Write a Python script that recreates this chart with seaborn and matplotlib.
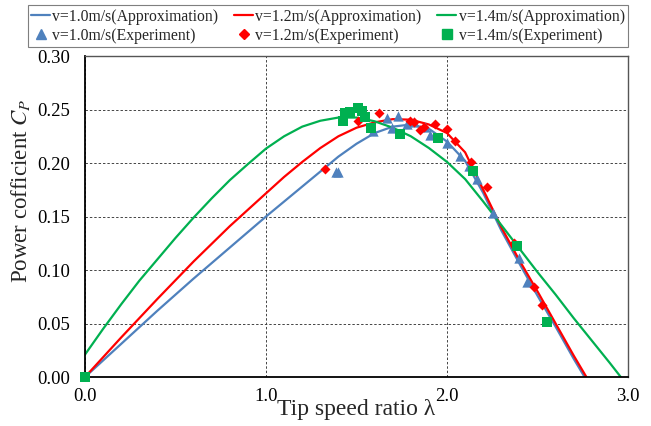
"""
Courbe Cp - lambda : approximations et points experimentaux
pour trois vitesses de vent.
"""

import numpy as np
import pandas as pd
import matplotlib.pyplot as plt
import seaborn as sns
from matplotlib.lines import Line2D

# ---------------------------------------------------------------------------
# Donnees
# ---------------------------------------------------------------------------

# Courbes d'approximation
lam_fit_10 = [0.0, 0.2, 0.4, 0.6, 0.8, 1.0, 1.1, 1.2, 1.3, 1.4, 1.5, 1.6, 1.7,
              1.8, 1.9, 2.0, 2.1, 2.2, 2.3, 2.4, 2.5, 2.6, 2.7, 2.76]
cp_fit_10 = [0.000, 0.031, 0.062, 0.092, 0.121, 0.150, 0.164, 0.178, 0.192,
             0.206, 0.218, 0.228, 0.234, 0.236, 0.232, 0.220, 0.202, 0.172,
             0.137, 0.106, 0.076, 0.047, 0.017, 0.000]

lam_fit_12 = [0.0, 0.2, 0.4, 0.6, 0.8, 1.0, 1.1, 1.2, 1.3, 1.4, 1.5, 1.6, 1.7,
              1.8, 1.9, 2.0, 2.1, 2.2, 2.3, 2.4, 2.5, 2.6, 2.7, 2.77]
cp_fit_12 = [0.000, 0.037, 0.073, 0.108, 0.141, 0.1717, 0.187, 0.201, 0.214,
             0.225, 0.233, 0.238, 0.241, 0.2405, 0.236, 0.228, 0.210, 0.175,
             0.140, 0.109, 0.080, 0.050, 0.020, 0.000]

lam_fit_14 = [0.0, 0.1, 0.2, 0.3, 0.4, 0.5, 0.6, 0.7, 0.8, 0.9, 1.0, 1.1, 1.2,
              1.3, 1.4, 1.5, 1.6, 1.7, 1.8, 1.9, 2.0, 2.1, 2.2, 2.3, 2.4, 2.5,
              2.6, 2.7, 2.8, 2.9, 2.96]
cp_fit_14 = [0.021, 0.045, 0.068, 0.090, 0.110, 0.130, 0.149, 0.167, 0.184,
             0.199, 0.2135, 0.225, 0.234, 0.2395, 0.2425, 0.2425, 0.239, 0.233,
             0.225, 0.214, 0.201, 0.185, 0.164, 0.142, 0.120, 0.098, 0.077,
             0.055, 0.034, 0.013, 0.000]

# Points experimentaux
lam_exp_10 = [1.387, 1.40, 1.59, 1.67, 1.695, 1.731, 1.779, 1.82, 1.879, 1.904,
              2.0, 2.07, 2.12, 2.165, 2.255, 2.395, 2.44]
cp_exp_10 = [0.192, 0.192, 0.230, 0.2418, 0.2325, 0.2443, 0.236, 0.238, 0.234,
             0.226, 0.219, 0.207, 0.197, 0.185, 0.153, 0.111, 0.0887]

lam_exp_12 = [1.326, 1.507, 1.624, 1.795, 1.82, 1.852, 1.873, 1.935, 2.002,
              2.046, 2.134, 2.223, 2.37, 2.478, 2.526]
cp_exp_12 = [0.194, 0.2397, 0.2465, 0.239, 0.238, 0.231, 0.2334, 0.2365,
             0.2319, 0.2204, 0.2007, 0.1774, 0.125, 0.084, 0.0669]

lam_exp_14 = [0.0, 1.424, 1.434, 1.466, 1.507, 1.528, 1.549, 1.582, 1.741,
              1.952, 2.142, 2.384, 2.551]
cp_exp_14 = [0.0, 0.2397, 0.2465, 0.2474, 0.2515, 0.249, 0.2428, 0.2328,
             0.2272, 0.2235, 0.193, 0.122, 0.0514]

VITESSES = ["1.0", "1.2", "1.4"]
COULEURS = {"1.0": "#4F81BD", "1.2": "#FF0000", "1.4": "#00B050"}
MARQUEURS = {"1.0": ("^", 55), "1.2": ("D", 26), "1.4": ("s", 48)}

df_fit = pd.concat([
    pd.DataFrame({"lam": lam_fit_10, "cp": cp_fit_10, "v": "1.0"}),
    pd.DataFrame({"lam": lam_fit_12, "cp": cp_fit_12, "v": "1.2"}),
    pd.DataFrame({"lam": lam_fit_14, "cp": cp_fit_14, "v": "1.4"}),
])
df_exp = pd.concat([
    pd.DataFrame({"lam": lam_exp_10, "cp": cp_exp_10, "v": "1.0"}),
    pd.DataFrame({"lam": lam_exp_12, "cp": cp_exp_12, "v": "1.2"}),
    pd.DataFrame({"lam": lam_exp_14, "cp": cp_exp_14, "v": "1.4"}),
])

# ---------------------------------------------------------------------------
# Figure
# ---------------------------------------------------------------------------

sns.set_theme(style="white")
plt.rcParams["font.family"] = ["Liberation Serif", "DejaVu Serif"]
plt.rcParams["mathtext.fontset"] = "stix"

fig = plt.figure(figsize=(6.51, 4.26), dpi=100)
ax = fig.add_axes([0.1306, 0.115, 0.8341, 0.7535])

sns.lineplot(data=df_fit, x="lam", y="cp", hue="v", palette=COULEURS,
             sort=False, estimator=None, legend=False, lw=1.6, ax=ax)

for v in VITESSES:
    marker, size = MARQUEURS[v]
    sns.scatterplot(data=df_exp[df_exp["v"] == v], x="lam", y="cp",
                    color=COULEURS[v], marker=marker, s=size, linewidth=0,
                    legend=False, clip_on=False, zorder=3, ax=ax)

ax.set_xlim(0, 3)
ax.set_ylim(0, 0.30)
ax.set_xticks([0, 1, 2, 3])
ax.set_xticklabels(["0.0", "1.0", "2.0", "3.0"])
ax.set_yticks(np.arange(0, 0.301, 0.05))
ax.set_yticklabels([f"{t:.2f}" for t in np.arange(0, 0.301, 0.05)])
ax.tick_params(axis="both", direction="in", length=4, labelsize=13.5,
               colors="black")
ax.tick_params(axis="x", pad=8)
ax.tick_params(axis="y", pad=11)

ax.grid(True, ls=(0, (2.5, 2)), color="#444444", lw=0.7)
for side in ["top", "right"]:
    ax.spines[side].set_color("#555555")
    ax.spines[side].set_linewidth(1.0)
for side in ["left", "bottom"]:
    ax.spines[side].set_color("black")
    ax.spines[side].set_linewidth(1.3)

ax.set_xlabel("Tip speed ratio λ", fontsize=17)
ax.set_ylabel("Power cofficient $C_P$", fontsize=16.5)
ax.xaxis.set_label_coords(0.5, -0.07)
ax.xaxis.label.set_va("top")
ax.yaxis.set_label_coords(-0.098, 0.58)

# Legende : ligne 1 = approximations, ligne 2 = experiences
handles, labels = [], []
for v in VITESSES:
    marker, size = MARQUEURS[v]
    handles.append(Line2D([], [], color=COULEURS[v], lw=1.6))
    labels.append(f"v={v}m/s(Approximation)")
    handles.append(Line2D([], [], color=COULEURS[v], marker=marker, ls="none",
                          markersize=np.sqrt(size)))
    labels.append(f"v={v}m/s(Experiment)")

leg = fig.legend(handles, labels, ncol=3, loc="upper center",
                 bbox_to_anchor=(0.5038, 0.995), fontsize=11.3,
                 handlelength=1.2, handletextpad=0.15, columnspacing=1.0,
                 labelspacing=0.2, borderpad=0.22, borderaxespad=0.2,
                 numpoints=1, fancybox=False, framealpha=1,
                 edgecolor="#7F7F7F")
leg.get_frame().set_linewidth(0.8)

fig.savefig("out.png", dpi=100)
